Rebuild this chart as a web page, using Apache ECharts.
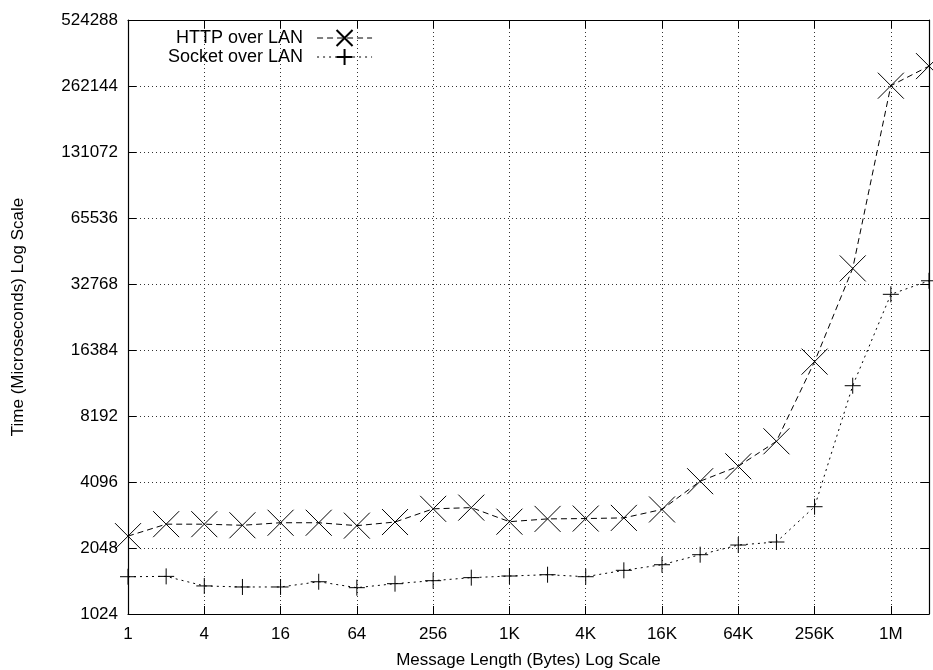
<!DOCTYPE html>
<html>
<head>
<meta charset="utf-8">
<script src="https://cdn.jsdelivr.net/npm/echarts@6/dist/echarts.min.js"></script>
<style>
  html, body { margin: 0; padding: 0; background: #fff; }
  #chart { width: 933px; height: 670px; }
</style>
</head>
<body>
<div id="chart"></div>
<script>
// message sizes in bytes (1 .. 2M)
const sizes = [1, 2, 4, 8, 16, 32, 64, 128, 256, 512, 1024, 2048, 4096, 8192,
  16384, 32768, 65536, 131072, 262144, 524288, 1048576, 2097152]
// time in microseconds
const httpLan = [2320, 2630, 2630, 2600, 2670, 2670, 2590, 2690, 3090, 3130, 2700,
  2780, 2790, 2810, 3070, 4130, 4830, 6280, 14500, 38600, 263000, 323000]
const socketLan = [1515, 1520, 1375, 1360, 1360, 1437, 1350, 1408, 1453, 1500, 1526,
  1547, 1515, 1620, 1718, 1909, 2113, 2181, 3160, 11260, 29400, 33900]
const names = ['HTTP over LAN', 'Socket over LAN']

const font = 'Liberation Sans'
const xPath = 'path://M0,0L20,20M20,0L0,20'
const plusPath = 'path://M10,0L10,20M0,10L20,10'

function sizeLabel(v) {
  const e = Math.round(Math.log2(v))
  if (e % 2 !== 0 || e > 20) return ''
  if (v >= 1048576) return (v / 1048576) + 'M'
  if (v >= 1024) return (v / 1024) + 'K'
  return String(v)
}

const chart = echarts.init(document.getElementById('chart'))
const axisLine = { show: true, onZero: false, lineStyle: { color: '#000', width: 1.2 } }
const tick = { show: true, inside: true, length: 8, lineStyle: { color: '#000', width: 1 } }
const grid = { show: true, lineStyle: { color: '#333', width: 1, type: [1, 3] } }

const option = {
  animation: false,
  textStyle: { fontFamily: font },
  grid: { left: 128, right: 4, top: 20, bottom: 56, containLabel: false, outerBoundsMode: 'none' },
  legend: {
    data: names,
    orient: 'vertical',
    align: 'right',
    left: 168,
    top: 29,
    padding: 0,
    itemWidth: 55,
    itemHeight: 20,
    itemGap: 1,
    lineStyle: { width: 1, color: '#000', opacity: 1 },
    textStyle: { fontFamily: font, fontSize: 18, color: '#000', padding: [0, 9, 0, 0] }
  },
  xAxis: [
    {
      type: 'log', logBase: 2, min: 1, max: 2097152, interval: 2,
      position: 'bottom',
      name: 'Message Length (Bytes) Log Scale',
      nameLocation: 'middle', nameGap: 38,
      nameTextStyle: { fontFamily: font, fontSize: 17, color: '#000' },
      axisLine: axisLine, axisTick: tick, splitLine: grid,
      axisLabel: { margin: 12, fontFamily: font, fontSize: 17, color: '#000', formatter: sizeLabel }
    },
    {
      type: 'log', logBase: 2, min: 1, max: 2097152, interval: 2,
      position: 'top',
      axisLine: axisLine, axisTick: tick, splitLine: { show: false },
      axisLabel: { show: false }
    }
  ],
  yAxis: [
    {
      type: 'log', logBase: 2, min: 1024, max: 524288, interval: 1,
      position: 'left',
      name: 'Time (Microseconds) Log Scale',
      nameLocation: 'middle', nameGap: 101,
      nameTextStyle: { fontFamily: font, fontSize: 17, color: '#000' },
      axisLine: axisLine, axisTick: tick, splitLine: grid,
      axisLabel: { margin: 10, fontFamily: font, fontSize: 17, color: '#000',
        formatter: v => String(Math.round(v)) }
    },
    {
      type: 'log', logBase: 2, min: 1024, max: 524288, interval: 1,
      position: 'right',
      axisLine: axisLine, axisTick: tick, splitLine: { show: false },
      axisLabel: { show: false }
    }
  ],
  series: [
    {
      name: names[0], type: 'line',
      data: sizes.map((s, i) => [s, httpLan[i]]),
      symbol: xPath, symbolSize: 26,
      lineStyle: { color: '#000', width: 1, type: [6, 4] },
      itemStyle: { color: '#000', borderColor: '#000', borderWidth: 1 }
    },
    {
      name: names[1], type: 'line',
      data: sizes.map((s, i) => [s, socketLan[i]]),
      symbol: plusPath, symbolSize: 16,
      lineStyle: { color: '#000', width: 1, type: [2, 4] },
      itemStyle: { color: '#000', borderColor: '#000', borderWidth: 1 }
    }
  ]
}
chart.setOption(option)
</script>
</body>
</html>
